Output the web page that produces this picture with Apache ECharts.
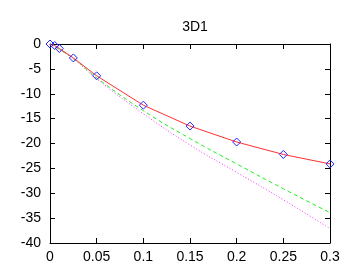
<!DOCTYPE html>
<html><head><meta charset="utf-8">
<script src="https://cdn.jsdelivr.net/npm/echarts@6/dist/echarts.min.js"></script>
<style>html,body{margin:0;padding:0;background:#fff}#c{width:354px;height:273px}</style>
</head><body><div id="c"></div>
<script>
var title = "3D1";
var redX = [0, 0.005, 0.01, 0.025, 0.05, 0.1, 0.15, 0.2, 0.25, 0.3];
var redY = [0, -0.3, -0.9, -2.8, -6.4, -12.3, -16.5, -19.7, -22.2, -24.1];
var curveX = [0, 0.025, 0.05, 0.1, 0.15, 0.2, 0.25, 0.3];
var greenY = [0, -2.9, -6.8, -13.4, -19.0, -24.1, -29.1, -33.9];
var magentaY = [0, -3.0, -7.0, -14.0, -20.3, -25.8, -31.3, -37.1];
function pairs(xs, ys){ return xs.map(function(x,i){return [x, ys[i]];}); }
var font = "'Liberation Sans Narrow', 'Liberation Sans', Arial, sans-serif";
var chart = echarts.init(document.getElementById('c'));
var tickStyle = {show:true, inside:true, length:5, lineStyle:{color:'#000', width:1}};
var lineStyle = {show:true, onZero:false, lineStyle:{color:'#000', width:1}};
chart.setOption({
  animation:false,
  title:{text:title, left:190, top:15, textAlign:'center', textStyle:{fontFamily:font, fontSize:14, fontWeight:'normal', color:'#000'}},
  grid:{left:50, right:24, top:44, bottom:30},
  xAxis:[
    {type:'value', min:0, max:0.3, interval:0.05, position:'bottom', axisLine:lineStyle, axisTick:tickStyle, splitLine:{show:false},
     axisLabel:{color:'#000', fontFamily:font, fontSize:14, margin:7}},
    {type:'value', min:0, max:0.3, interval:0.05, position:'top', axisLine:lineStyle, axisTick:tickStyle, splitLine:{show:false},
     axisLabel:{show:false}}
  ],
  yAxis:[
    {type:'value', min:-40, max:0, interval:5, position:'left', axisLine:lineStyle, axisTick:tickStyle, splitLine:{show:false},
     axisLabel:{color:'#000', fontFamily:font, fontSize:14, margin:9}},
    {type:'value', min:-40, max:0, interval:5, position:'right', axisLine:lineStyle, axisTick:tickStyle, splitLine:{show:false},
     axisLabel:{show:false}}
  ],
  series:[
    {type:'line', data:pairs(curveX, magentaY), showSymbol:false, symbol:'none', smooth:true,
     lineStyle:{color:'#ff33ff', width:1, type:[1,2]}},
    {type:'line', data:pairs(curveX, greenY), showSymbol:false, symbol:'none', smooth:true,
     lineStyle:{color:'#22ee22', width:1, type:[4,3]}},
    {type:'line', data:pairs(redX, redY), symbol:'diamond', symbolSize:8, showSymbol:true, smooth:false,
     lineStyle:{color:'#ff3030', width:1},
     itemStyle:{color:'rgba(255,255,255,0)', borderColor:'#2222ff', borderWidth:1}}
  ]
});
</script></body></html>
